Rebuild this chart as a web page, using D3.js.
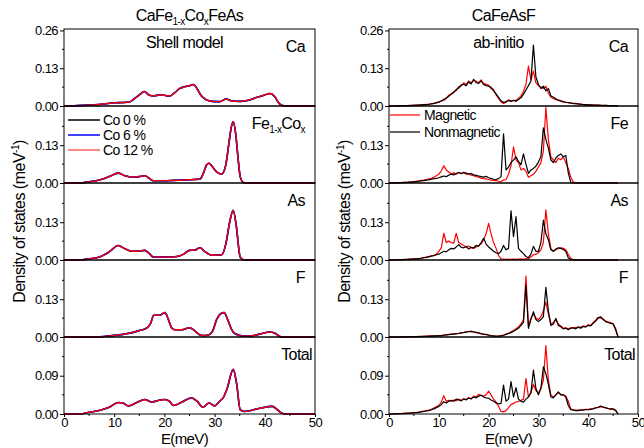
<!DOCTYPE html>
<html>
<head>
<meta charset="utf-8">
<script src="https://cdn.jsdelivr.net/npm/d3@7"></script>
<style>
  body { margin: 0; background: #fff; }
  text { font-family: "Liberation Sans", Arial, sans-serif; fill: #000; }
</style>
</head>
<body>
<script>
// ---- data ----
var panelNames = ["Ca", "Fe", "As", "F", "Total"];
var panelMax = [0.265, 0.265, 0.265, 0.265, 0.181];
var panelTicks = [[0, 0.13, 0.26], [0, 0.13], [0, 0.13], [0, 0.13], [0, 0.09]];
var panelMinor = [[0.065, 0.195], [0.065, 0.195], [0.065, 0.195], [0.065, 0.195], [0.045, 0.135]];
var xTicks = [0, 10, 20, 30, 40, 50];
var xMinor = [5, 15, 25, 35, 45];

var shellSeries = ["Co 0 %", "Co 6 %", "Co 12 %"];
var abSeries = ["Magnetic", "Nonmagnetic"];

// shell model (E, dos) knots
var shellCa = [[0,0],[2,0.001],[4,0.002],[6,0.004],[8,0.007],[10,0.011],[12,0.012],[13,0.014],[14,0.025],[15,0.038],[16,0.05],[17,0.037],[18,0.035],[19,0.038],[20,0.037],[21,0.034],[22,0.045],[23,0.06],[24,0.066],[25,0.07],[25.8,0.074],[26.5,0.06],[27.3,0.036],[28.3,0.022],[29.5,0.016],[31,0.015],[32.3,0.024],[33.5,0.017],[35,0.016],[36.5,0.019],[38.3,0.029],[40,0.038],[41,0.043],[42,0.032],[42.8,0.01],[43.5,0.002],[45,0],[50,0]];
var shellFe = [[0,0],[3,0],[5,0.004],[7.2,0.011],[9,0.022],[10.8,0.034],[12,0.026],[13.5,0.02],[15,0.022],[16.1,0.025],[17,0.016],[17.8,0.008],[20,0.008],[22,0.009],[24,0.01],[26,0.012],[27.1,0.014],[27.8,0.035],[28.4,0.062],[28.9,0.068],[29.6,0.055],[30.4,0.038],[31.4,0.031],[32.2,0.06],[32.8,0.13],[33.3,0.19],[33.7,0.211],[34.2,0.17],[34.7,0.08],[35.1,0.022],[35.7,0.002],[37,0],[50,0]];
var shellAs = [[0,0],[3,0],[5,0.004],[7.2,0.011],[9,0.028],[10.8,0.05],[12,0.04],[13.5,0.03],[15,0.031],[16.1,0.033],[17,0.022],[17.8,0.01],[20,0.01],[22,0.011],[23,0.014],[24,0.022],[25,0.033],[26,0.034],[27.1,0.042],[28,0.03],[29.1,0.018],[30.5,0.017],[31.4,0.018],[32.3,0.06],[33,0.13],[33.7,0.171],[34.3,0.12],[35.1,0.01],[35.8,0.001],[37,0],[50,0]];
var shellF = [[0,0],[6,0],[9.2,0.004],[12,0.01],[13.8,0.016],[15,0.022],[16.4,0.03],[17.2,0.045],[17.9,0.075],[19.1,0.075],[20.1,0.084],[20.8,0.06],[21.5,0.03],[22.1,0.025],[23.5,0.025],[25,0.032],[26,0.022],[27,0.008],[27.7,0.005],[28.8,0.007],[29.6,0.02],[30.4,0.06],[31.2,0.08],[31.9,0.084],[32.6,0.06],[33.4,0.025],[34,0.012],[35.7,0.003],[37,0.003],[39,0.01],[41,0.017],[42,0.013],[43,0.002],[44,0],[50,0]];
var shellTotal = [[0,0],[3.2,0],[5,0.004],[7.2,0.009],[9,0.016],[10.8,0.027],[11.7,0.026],[12.8,0.019],[14.5,0.027],[16.1,0.034],[17.5,0.028],[18.5,0.031],[20.1,0.034],[21,0.03],[21.8,0.02],[23.5,0.028],[25.4,0.038],[26.5,0.03],[27.7,0.016],[28.9,0.026],[30,0.019],[31,0.03],[31.7,0.038],[32.5,0.06],[33.7,0.105],[34.4,0.07],[35.1,0.01],[36,0.006],[38.8,0.013],[41.5,0.018],[42.5,0.01],[43.4,0.002],[44,0],[50,0]];
var shellData = [shellCa, shellFe, shellAs, shellF, shellTotal];

// ab-initio, energies 0..46 meV every 0.5 meV
var abEnergy = d3.range(0, 46.01, 0.5);
var magCa = [0,0,0,0.001,0,0.001,0.001,0,0.002,0.001, 0.003,0.002,0.004,0.003,0.005,0.006,0.005,0.008,0.008,0.012, 0.015,0.016,0.024,0.025,0.038,0.039,0.05,0.053,0.067,0.069, 0.08,0.074,0.086,0.08,0.088,0.085,0.08,0.09,0.077,0.075, 0.072,0.06,0.057,0.038,0.026,0.014,0.009,0.013,0.021,0.018, 0.018,0.02,0.026,0.035,0.05,0.075,0.137,0.09,0.12,0.08, 0.07,0.065,0.06,0.068,0.045,0.03,0.026,0.022,0.02,0.016, 0.014,0.013,0.011,0.011,0.008,0.009,0.006,0.007,0.005,0.004, 0.005,0.003,0.004,0.002,0.003,0.002,0.001,0.002,0.001,0.001, 0,0.001,0];
var nonCa = [0,0,0,0,0.001,0,0.001,0.001,0.001,0.002, 0.002,0.003,0.003,0.004,0.005,0.005,0.006,0.007,0.009,0.011, 0.013,0.018,0.02,0.028,0.033,0.042,0.046,0.057,0.062,0.072, 0.075,0.07,0.083,0.076,0.092,0.08,0.078,0.086,0.074,0.07, 0.068,0.064,0.052,0.042,0.03,0.018,0.012,0.015,0.019,0.016, 0.02,0.016,0.022,0.028,0.04,0.055,0.07,0.085,0.21,0.1, 0.075,0.06,0.068,0.052,0.06,0.035,0.03,0.025,0.02,0.018, 0.015,0.012,0.012,0.01,0.009,0.008,0.007,0.006,0.005,0.005, 0.004,0.004,0.003,0.003,0.003,0.002,0.002,0.002,0.001,0.001, 0.001,0,0];
var magFe = [0,0,0,0.001,0,0.001,0.002,0.001,0.003,0.004, 0.005,0.006,0.007,0.009,0.01,0.012,0.014,0.016,0.02,0.025, 0.03,0.042,0.059,0.045,0.038,0.032,0.035,0.03,0.036,0.033, 0.035,0.03,0.032,0.027,0.025,0.022,0.02,0.017,0.015,0.014, 0.012,0.01,0.009,0.008,0.006,0.005,0.01,0.012,0.03,0.06, 0.124,0.08,0.07,0.045,0.05,0.04,0.02,0.025,0.03,0.04, 0.055,0.07,0.11,0.26,0.15,0.09,0.08,0.07,0.085,0.08, 0.09,0.07,0.05,0.02,0.003,0.001,0,0,0,0, 0,0,0,0,0,0,0,0,0,0, 0,0,0];
var nonFe = [0,0,0,0,0.001,0.001,0.002,0.002,0.003,0.003, 0.004,0.005,0.006,0.007,0.008,0.01,0.011,0.013,0.015,0.016, 0.018,0.021,0.024,0.022,0.027,0.03,0.028,0.033,0.036,0.032, 0.037,0.034,0.03,0.033,0.028,0.026,0.024,0.022,0.02,0.023, 0.018,0.016,0.013,0.012,0.015,0.022,0.169,0.045,0.055,0.07, 0.079,0.09,0.075,0.062,0.1,0.065,0.033,0.045,0.05,0.058, 0.072,0.09,0.19,0.15,0.12,0.08,0.07,0.086,0.095,0.1, 0.09,0.095,0.035,0.002,0,0,0,0,0,0, 0,0,0,0,0,0,0,0,0,0, 0,0,0];
var magAs = [0,0,0,0.001,0,0.001,0.002,0.001,0.003,0.003, 0.004,0.005,0.004,0.007,0.008,0.01,0.012,0.015,0.016,0.02, 0.03,0.042,0.092,0.06,0.065,0.06,0.058,0.092,0.06,0.055, 0.05,0.045,0.048,0.042,0.04,0.045,0.05,0.055,0.07,0.09, 0.126,0.09,0.06,0.04,0.015,0.004,0.003,0.002,0.003,0.002, 0.003,0.002,0.003,0.004,0.002,0.005,0.004,0.01,0.018,0.02, 0.025,0.035,0.06,0.173,0.09,0.04,0.03,0.035,0.04,0.042, 0.04,0.035,0.02,0.006,0.001,0,0,0,0,0, 0,0,0,0,0,0,0,0,0,0, 0,0,0];
var nonAs = [0,0,0,0,0.001,0.001,0.001,0.002,0.002,0.003, 0.003,0.004,0.005,0.006,0.008,0.009,0.011,0.013,0.015,0.018, 0.02,0.025,0.03,0.028,0.035,0.04,0.038,0.045,0.053,0.044, 0.042,0.046,0.038,0.044,0.042,0.05,0.048,0.06,0.075,0.055, 0.045,0.038,0.03,0.025,0.022,0.03,0.05,0.035,0.04,0.169, 0.08,0.149,0.04,0.03,0.022,0.012,0.008,0.02,0.047,0.03, 0.03,0.06,0.137,0.09,0.07,0.035,0.03,0.038,0.042,0.04, 0.036,0.03,0.008,0.001,0,0,0,0,0,0, 0,0,0,0,0,0,0,0,0,0, 0,0,0];
var magF = [0,0,0,0,0,0.001,0,0,0.001,0, 0.001,0.001,0.002,0.001,0.002,0.003,0.003,0.004,0.003,0.005, 0.005,0.005,0.007,0.007,0.009,0.01,0.011,0.012,0.013,0.015, 0.016,0.018,0.019,0.02,0.017,0.015,0.013,0.011,0.009,0.008, 0.006,0.004,0.003,0.002,0.003,0.005,0.007,0.01,0.013,0.018, 0.022,0.028,0.035,0.045,0.06,0.21,0.04,0.065,0.08,0.065, 0.06,0.07,0.09,0.12,0.08,0.045,0.05,0.06,0.045,0.038, 0.03,0.032,0.028,0.032,0.03,0.033,0.032,0.034,0.038,0.036, 0.042,0.04,0.05,0.058,0.068,0.065,0.062,0.055,0.052,0.05, 0.046,0.03,0];
var nonF = [0,0,0,0,0,0,0,0.001,0,0.001, 0.001,0.001,0.001,0.002,0.002,0.002,0.003,0.003,0.004,0.004, 0.004,0.005,0.006,0.007,0.008,0.009,0.01,0.011,0.012,0.014, 0.015,0.017,0.018,0.019,0.018,0.016,0.014,0.012,0.01,0.009, 0.007,0.005,0.004,0.003,0.003,0.004,0.006,0.009,0.012,0.015, 0.02,0.025,0.03,0.04,0.05,0.177,0.03,0.06,0.087,0.06, 0.053,0.06,0.07,0.171,0.09,0.04,0.045,0.064,0.04,0.035, 0.028,0.03,0.025,0.03,0.032,0.028,0.035,0.03,0.036,0.034, 0.04,0.038,0.047,0.055,0.065,0.07,0.06,0.053,0.05,0.047, 0.045,0.025,0];
var magTotal = [0,0,0.001,0,0.001,0.001,0.002,0.001,0.002,0.003, 0.003,0.004,0.004,0.006,0.006,0.008,0.009,0.011,0.014,0.017, 0.02,0.028,0.043,0.03,0.032,0.03,0.033,0.031,0.035,0.032, 0.036,0.033,0.039,0.035,0.042,0.04,0.046,0.044,0.042,0.045, 0.054,0.045,0.035,0.028,0.018,0.006,0.005,0.008,0.015,0.022, 0.025,0.028,0.03,0.032,0.035,0.083,0.04,0.05,0.07,0.055, 0.05,0.06,0.08,0.161,0.08,0.045,0.04,0.045,0.05,0.046, 0.045,0.042,0.03,0.012,0.01,0.009,0.009,0.01,0.01,0.011, 0.011,0.012,0.013,0.015,0.015,0.017,0.016,0.014,0.013,0.011, 0.011,0.008,0];
var nonTotal = [0,0,0,0.001,0.001,0.001,0.001,0.002,0.002,0.002, 0.003,0.003,0.004,0.005,0.006,0.007,0.008,0.01,0.012,0.015, 0.018,0.022,0.029,0.026,0.03,0.032,0.03,0.035,0.033,0.031, 0.035,0.034,0.037,0.036,0.04,0.038,0.042,0.044,0.04,0.038, 0.037,0.033,0.03,0.026,0.024,0.025,0.068,0.03,0.035,0.076, 0.04,0.062,0.035,0.03,0.028,0.035,0.04,0.05,0.103,0.06, 0.045,0.06,0.111,0.095,0.07,0.04,0.038,0.045,0.052,0.045, 0.045,0.04,0.02,0.01,0.009,0.008,0.008,0.009,0.009,0.01, 0.01,0.011,0.012,0.014,0.016,0.019,0.016,0.015,0.013,0.012, 0.012,0.009,0];
var magData = [magCa, magFe, magAs, magF, magTotal];
var nonData = [nonCa, nonFe, nonAs, nonF, nonTotal];

// ---- layout ----
var width = 644, height = 448;
var panelTop = 29, panelH = 77;
var columns = [{ x0: 64, x1: 315 }, { x0: 389, x1: 638 }];
var shellColors = ["#000000", "#0000ff", "#ff0000"];
var shellLegendColors = ["#000000", "#0000ff", "#ff6060"];
var abColors = ["#ff0000", "#000000"];

var svg = d3.select("body").append("svg")
    .attr("width", width)
    .attr("height", height);

function drawColumn(col, ci) {
    var x = d3.scaleLinear().domain([0, 50]).range([col.x0, col.x1]);
    var g = svg.append("g");

    panelNames.forEach(function(name, i) {
        var top = panelTop + i * panelH;
        var y = d3.scaleLinear().domain([0, panelMax[i]]).range([top + panelH, top]);

        // lines
        var line = d3.line()
            .x(function(d) { return x(d[0]); })
            .y(function(d) { return y(d[1]); });
        if (ci === 0) {
            line.curve(d3.curveMonotoneX);
            shellSeries.forEach(function(s, k) {
                g.append("path")
                    .datum(shellData[i])
                    .attr("d", line)
                    .attr("fill", "none")
                    .attr("stroke", shellColors[k])
                    .attr("stroke-width", k === 2 ? 1.3 : 1.6);
            });
        } else {
            [magData[i], nonData[i]].forEach(function(vals, k) {
                g.append("path")
                    .datum(abEnergy.map(function(e, j) { return [e, vals[j]]; }))
                    .attr("d", line)
                    .attr("fill", "none")
                    .attr("stroke", abColors[k])
                    .attr("stroke-width", 1.2)
                    .attr("stroke-linejoin", "round");
            });
        }

        // frame
        g.append("rect")
            .attr("x", col.x0).attr("y", top)
            .attr("width", col.x1 - col.x0).attr("height", panelH)
            .attr("fill", "none").attr("stroke", "#000").attr("stroke-width", 1);

        // y axis
        var ya = g.append("g").attr("transform", "translate(" + col.x0 + ",0)");
        ya.call(d3.axisLeft(y).tickValues(panelTicks[i]).tickFormat(d3.format(".2f")).tickSize(4).tickPadding(2));
        ya.select(".domain").remove();
        ya.selectAll("text").style("font-size", "13px").style("letter-spacing", "-0.6px");
        ya.selectAll(".minor").data(panelMinor[i]).enter().append("line")
            .attr("x1", -2).attr("x2", 0)
            .attr("y1", function(d) { return y(d); }).attr("y2", function(d) { return y(d); })
            .attr("stroke", "#000");

        // panel label
        var lab = g.append("text")
            .attr("x", col.x1 - (name === "Total" ? 3 : 10))
            .attr("y", top + 23)
            .attr("text-anchor", "end")
            .style("font-size", "16px")
            .style("letter-spacing", "-0.6px");
        if (ci === 0 && name === "Fe") {
            lab.append("tspan").text("Fe");
            lab.append("tspan").text("1-x").attr("dy", 4).style("font-size", "10px");
            lab.append("tspan").text("Co").attr("dy", -4);
            lab.append("tspan").text("x").attr("dy", 4).style("font-size", "10px");
        } else {
            lab.text(name);
        }
    });

    // x axis on the bottom panel
    var bottom = panelTop + panelNames.length * panelH;
    var xa = g.append("g").attr("transform", "translate(0," + bottom + ")");
    xa.call(d3.axisBottom(x).tickValues(xTicks).tickFormat(d3.format("d")).tickSize(3).tickPadding(1));
    xa.select(".domain").remove();
    xa.selectAll("text").style("font-size", "13px").style("letter-spacing", "-0.5px");
    xa.selectAll(".minor").data(xMinor).enter().append("line")
        .attr("x1", function(d) { return x(d); }).attr("x2", function(d) { return x(d); })
        .attr("y1", 0).attr("y2", 2).attr("stroke", "#000");

    g.append("text")
        .attr("x", (col.x0 + col.x1) / 2 - 5)
        .attr("y", 444)
        .attr("text-anchor", "middle")
        .style("font-size", "15px")
        .style("letter-spacing", "-0.6px")
        .text("E(meV)");

    // y title
    var yt = g.append("text")
        .attr("transform", "translate(" + (col.x0 - 39) + "," + (panelTop + 2.5 * panelH) + ") rotate(-90)")
        .attr("text-anchor", "middle")
        .style("font-size", "16px")
        .style("letter-spacing", "-0.5px");
    yt.append("tspan").text("Density of states (meV");
    yt.append("tspan").text("-1").attr("dy", -6).style("font-size", "10px");
    yt.append("tspan").text(")").attr("dy", 6);
}

columns.forEach(drawColumn);

// titles
var cx0 = (columns[0].x0 + columns[0].x1) / 2, cx1 = (columns[1].x0 + columns[1].x1) / 2;
var t0 = svg.append("text").attr("x", cx0).attr("y", 21).attr("text-anchor", "middle")
    .style("font-size", "16px").style("letter-spacing", "-0.6px");
t0.append("tspan").text("CaFe");
t0.append("tspan").text("1-x").attr("dy", 4).style("font-size", "10px");
t0.append("tspan").text("Co").attr("dy", -4);
t0.append("tspan").text("x").attr("dy", 4).style("font-size", "10px");
t0.append("tspan").text("FeAs").attr("dy", -4);

svg.append("text").attr("x", cx1 - 10).attr("y", 21).attr("text-anchor", "middle")
    .style("font-size", "16px").style("letter-spacing", "-0.6px").text("CaFeAsF");

svg.append("text").attr("x", cx0 - 5).attr("y", 48).attr("text-anchor", "middle")
    .style("font-size", "16px").style("letter-spacing", "-0.6px").text("Shell model");
svg.append("text").attr("x", cx1 - 15).attr("y", 48).attr("text-anchor", "middle")
    .style("font-size", "16px").style("letter-spacing", "-0.6px").text("ab-initio");

// legends
var leg0 = svg.append("g");
shellSeries.forEach(function(s, k) {
    var yy = 120 + k * 15;
    leg0.append("line").attr("x1", 68).attr("x2", 100).attr("y1", yy).attr("y2", yy)
        .attr("stroke", shellLegendColors[k]).attr("stroke-width", 1.5);
    leg0.append("text").attr("x", 103).attr("y", yy + 5)
        .style("font-size", "14px").style("letter-spacing", "-0.6px").text(s);
});
var leg1 = svg.append("g");
abSeries.forEach(function(s, k) {
    var yy = 115 + k * 17;
    leg1.append("line").attr("x1", 390).attr("x2", 420).attr("y1", yy).attr("y2", yy)
        .attr("stroke", abColors[k]).attr("stroke-width", 1.2);
    leg1.append("text").attr("x", 424).attr("y", yy + 5)
        .style("font-size", "14px").style("letter-spacing", "-0.6px").text(s);
});
</script>
</body>
</html>
